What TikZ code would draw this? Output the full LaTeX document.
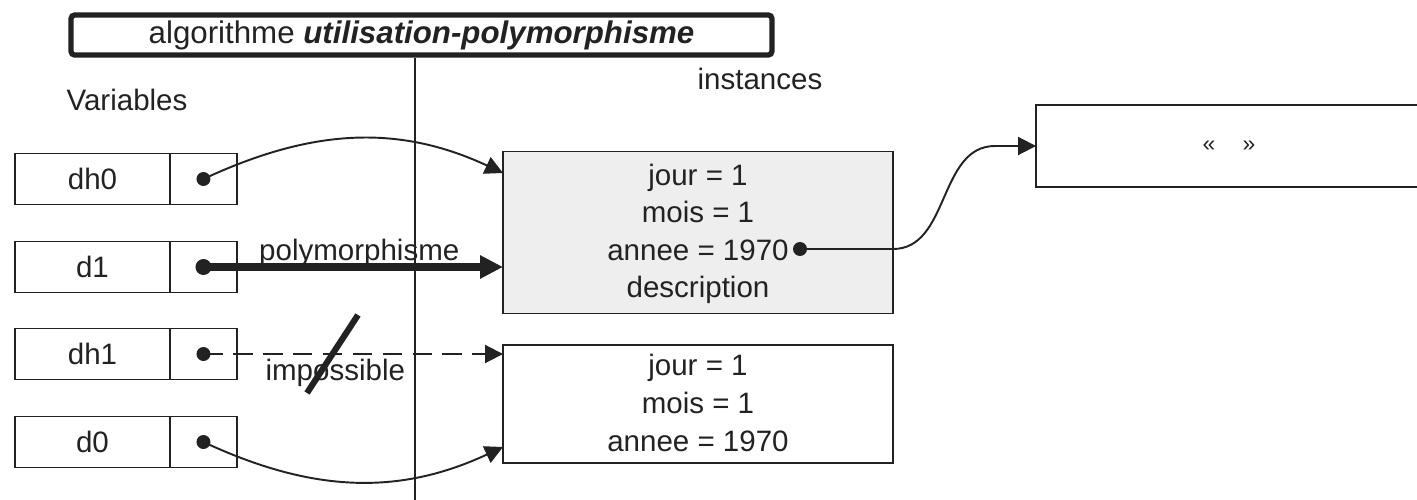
\documentclass[tikz,border=0pt]{standalone}
\usepackage{fontspec}
\setmainfont{Liberation Sans}
\usetikzlibrary{positioning, arrows.meta}
\definecolor{inkgray}{HTML}{222222}
\definecolor{objgray}{HTML}{EEEEEE}

\begin{document}
\begin{tikzpicture}[x=0.02cm, y=-0.02cm,
    every node/.style={font=\fontsize{16.8}{20}\selectfont, text=inkgray},
    cell/.style={draw=inkgray, line width=1.1pt, outer sep=0pt, inner sep=0pt, minimum height=1.02cm},
    namecell/.style={cell, minimum width=3.1cm},
    ptrcell/.style={cell, minimum width=1.34cm},
    objbox/.style={draw=inkgray, line width=1.1pt, outer sep=0pt, minimum width=7.8cm},
    field/.style={anchor=base},
    ref/.style={draw=inkgray, line width=1.1pt, -{Triangle[length=0.36cm, width=0.36cm]}},
    refthick/.style={draw=inkgray, line width=4pt, -{Triangle[length=0.46cm, width=0.44cm]}},
    refdash/.style={ref, dash pattern=on 11pt off 6pt},
    pdot/.style={fill=inkgray}
  ]

  \useasboundingbox (0,0) rectangle (1417,500);

  % title and separator
  \node[draw=inkgray, line width=3pt, rounded corners=2pt, minimum width=14.02cm,
        minimum height=0.8cm, inner sep=0pt, font=\fontsize{17.8}{20}\selectfont] (title) at (421.5,35)
        {algorithme \textbf{\textit{utilisation-polymorphisme}}};
  \coordinate (sepbot) at (415,500);
  \draw[inkgray, line width=1.1pt] (title.south -| sepbot) -- (sepbot);

  \node (varlbl) at (127,100) {Variables};
  \node (instlbl) at (760,79) {instances};

  % variables
  \node[namecell] (dh0) at (92.5,179) {dh0};
  \node[ptrcell, right=0pt of dh0] (dh0p) {};
  \node[namecell] (d1) at (92.5,267) {d1};
  \node[ptrcell, right=0pt of d1] (d1p) {};
  \node[namecell] (dh1) at (92.5,354) {dh1};
  \node[ptrcell, right=0pt of dh1] (dh1p) {};
  \node[namecell] (d0) at (92.5,442) {d0};
  \node[ptrcell, right=0pt of d0] (d0p) {};

  % instances
  \node[objbox, fill=objgray, minimum height=3.24cm] (obj1) at (698,232.5) {};
  \node[field] (jour1) at (698,185) {jour = 1};
  \node[field] (mois1) at (698,222) {mois = 1};
  \node[field] (annee1) at (698,260) {annee = 1970};
  \node[field] (desc1) at (698,297) {description};

  \node[objbox, minimum height=2.36cm] (obj2) at (698,404) {};
  \node[field] (jour2) at (698,375) {jour = 1};
  \node[field] (mois2) at (698,413) {mois = 1};
  \node[field] (annee2) at (698,451) {annee = 1970};

  \node[objbox, minimum width=7.72cm, minimum height=1.64cm,
        font=\fontsize{13}{15}\selectfont] (str) at (1229,146) {«\hspace{0.55cm}»};

  % pointers
  \fill[pdot] (dh0p.center) circle (0.14cm);
  \fill[pdot] (d1p.center) circle (0.16cm);
  \fill[pdot] (dh1p.center) circle (0.14cm);
  \fill[pdot] (d0p.center) circle (0.14cm);
  \coordinate (adot) at (800,249);
  \fill[pdot] (adot) circle (0.14cm);

  \draw[ref] (dh0p.center) to[out=25, in=155] ([yshift=0.12cm]obj1.west |- dh0p);
  \draw[refthick] (d1p.center) -- node[pos=0.52, yshift=0.28cm] (polylbl) {polymorphisme}
        (obj1.west |- d1p);
  \draw[refdash] (dh1p.center) -- node[pos=0.44, yshift=-0.38cm] (implbl) {impossible}
        (obj2.west |- dh1p);
  \draw[ref] (d0p.center) to[out=-25, in=205] ([yshift=-0.1cm]obj2.west |- d0p);

  \coordinate (bend) at (995,146);
  \draw[ref] (adot) -- (obj1.east |- adot) to[out=0, in=180] (bend) -- (str.west |- bend);

  % forbidden mark
  \coordinate (slashA) at (307,393);
  \coordinate (slashB) at (358,315);
  \draw[inkgray, line width=3.5pt] (slashA) -- (slashB);

\end{tikzpicture}
\end{document}
